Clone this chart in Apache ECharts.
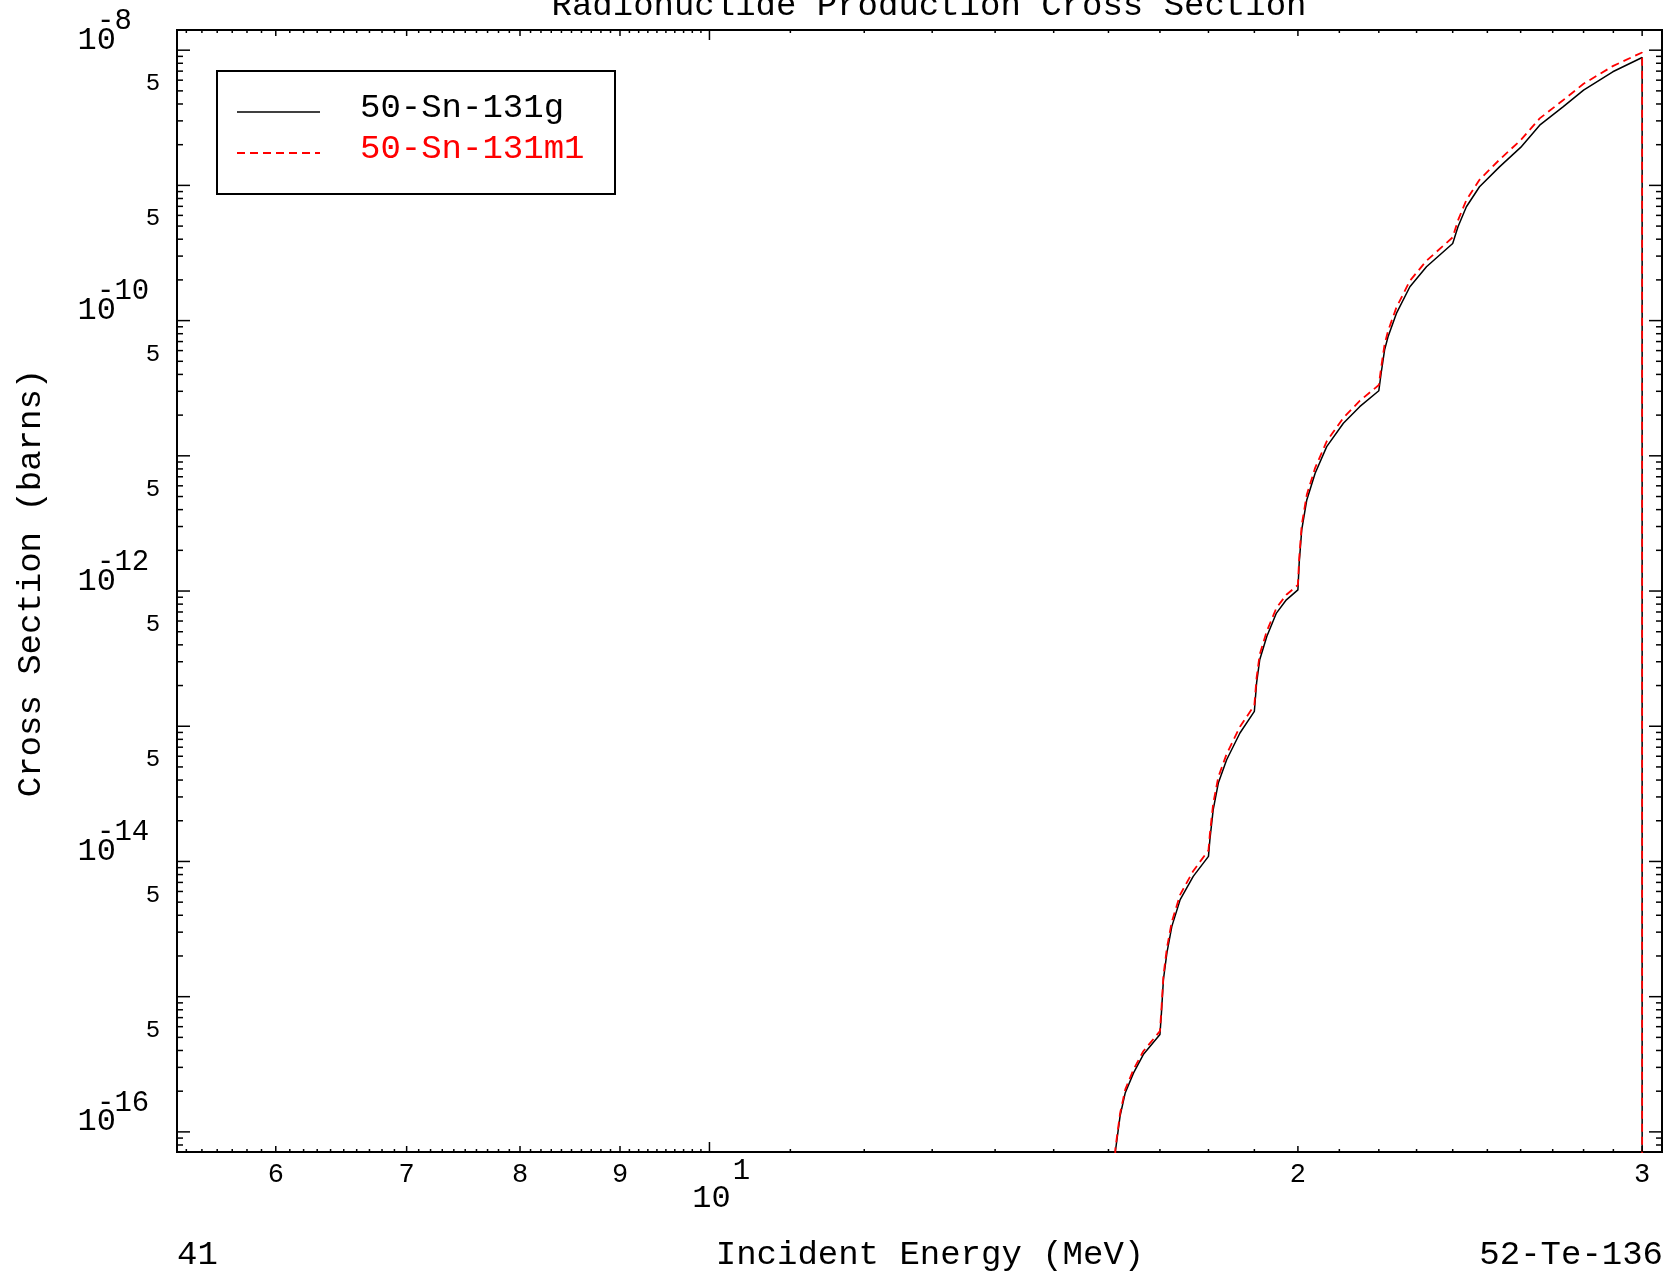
<!DOCTYPE html>
<html><head><meta charset="utf-8">
<script src="https://cdn.jsdelivr.net/npm/echarts@6/dist/echarts.min.js"></script>
<style>html,body{margin:0;padding:0;background:#fff}#chart{width:1667px;height:1277px}</style>
</head><body><div id="chart"></div>
<script>
// ---- data ----
const energyG = [16.1, 16.13, 16.22, 16.32, 16.48, 16.67, 17.0, 17.03, 17.07, 17.14, 17.24, 17.41, 17.68, 18.0, 18.03, 18.1, 18.21, 18.39, 18.68, 19.0, 19.05, 19.12, 19.28, 19.5, 19.73, 20.0, 20.03, 20.09, 20.21, 20.41, 20.69, 21.1, 21.51, 22.0, 22.06, 22.15, 22.24, 22.46, 22.82, 23.27, 24.0, 24.15, 24.39, 24.77, 25.36, 26.0, 26.59, 27.33, 28.0, 28.98, 30.0, 30.0];
const xsG = [1e-18, 7.13e-17, 1.31e-16, 1.95e-16, 2.73e-16, 3.73e-16, 5.25e-16, 7.59e-16, 1.34e-15, 2.11e-15, 3.31e-15, 5.22e-15, 7.76e-15, 1.09e-14, 1.45e-14, 2.41e-14, 3.80e-14, 5.65e-14, 8.91e-14, 1.29e-13, 2.09e-13, 3.10e-13, 4.61e-13, 6.87e-13, 8.61e-13, 1.02e-12, 1.61e-12, 2.83e-12, 4.72e-12, 7.43e-12, 1.17e-11, 1.74e-11, 2.31e-11, 3.03e-11, 4.08e-11, 6.07e-11, 7.60e-11, 1.13e-10, 1.78e-10, 2.50e-10, 3.72e-10, 4.94e-10, 6.95e-10, 9.77e-10, 1.37e-9, 1.91e-9, 2.79e-9, 3.81e-9, 5.06e-9, 6.92e-9, 8.83e-9, 1e-20];
const energyM1 = [16.09, 16.13, 16.22, 16.32, 16.48, 16.67, 17.0, 17.03, 17.07, 17.14, 17.24, 17.41, 17.68, 18.0, 18.03, 18.1, 18.21, 18.39, 18.68, 19.0, 19.05, 19.12, 19.28, 19.5, 19.73, 20.0, 20.03, 20.09, 20.21, 20.41, 20.69, 21.1, 21.51, 22.0, 22.06, 22.15, 22.24, 22.46, 22.82, 23.27, 24.0, 24.15, 24.39, 24.77, 25.36, 26.0, 26.59, 27.33, 28.0, 28.98, 30.0, 30.0];
const xsM1 = [1e-18, 7.50e-17, 1.37e-16, 2.06e-16, 2.90e-16, 3.95e-16, 5.56e-16, 8.13e-16, 1.43e-15, 2.29e-15, 3.59e-15, 5.69e-15, 8.51e-15, 1.21e-14, 1.60e-14, 2.67e-14, 4.21e-14, 6.25e-14, 9.91e-14, 1.43e-13, 2.29e-13, 3.40e-13, 5.04e-13, 7.50e-13, 9.38e-13, 1.11e-12, 1.75e-12, 3.08e-12, 5.15e-12, 8.15e-12, 1.28e-11, 1.91e-11, 2.55e-11, 3.34e-11, 4.49e-11, 6.68e-11, 8.39e-11, 1.25e-10, 1.97e-10, 2.77e-10, 4.13e-10, 5.52e-10, 7.80e-10, 1.10e-9, 1.55e-9, 2.16e-9, 3.13e-9, 4.26e-9, 5.64e-9, 7.62e-9, 9.62e-9, 1e-20];

// ---- axes ----
const xRange = [5.341, 30.71];
const yRange = [7.1e-17, 1.41e-8];
const xDecadeTicks = [10];
const xDecadeBase = ['10'];
const xDecadeExp = ['1'];
const xLabeledTicks = [6, 7, 8, 9, 20, 30];
const xTickLabels = ['6', '7', '8', '9', '2', '3'];
const xMinorTicks = [];
for (let i = 54; i < 100; i++) { if (i % 10 !== 0) xMinorTicks.push(i / 10); }
[11,12,13,14,15,16,17,18,19,21,22,23,24,25,26,27,28,29].forEach(v => xMinorTicks.push(v));
const yDecadeExps = [-8, -9, -10, -11, -12, -13, -14, -15, -16];
const yLabelDecades = [1e-8, 1e-10, 1e-12, 1e-14, 1e-16];
const yLabelExponents = ['-8', '-10', '-12', '-14', '-16'];
const yFiveTicks = [5e-9, 5e-10, 5e-11, 5e-12, 5e-13, 5e-14, 5e-15, 5e-16];
const yFiveLabel = '5';
const yMinorMantissas = [2, 3, 4, 5, 6, 7, 8, 9];

const FONT = '"Liberation Mono", "DejaVu Sans Mono", monospace';

// tick data: [x, y, kind]
const xTickData = [];
xDecadeTicks.forEach(v => xTickData.push([v, yRange[0], 0]));
xLabeledTicks.forEach(v => xTickData.push([v, yRange[0], 1]));
xMinorTicks.forEach(v => xTickData.push([v, yRange[0], 2]));
const yTickData = [];
yDecadeExps.forEach(e => {
  const d = Math.pow(10, e);
  yTickData.push([xRange[0], d, 0]);
  yMinorMantissas.forEach(m => {
    const v = m * d;
    if (v > yRange[0] && v < yRange[1]) yTickData.push([xRange[0], v, 1]);
  });
});
[2,3,4,5,6,7,8,9].forEach(m => { const v = m * 1e-17; if (v > yRange[0]) yTickData.push([xRange[0], v, 1]); });

function renderXTick(params, api) {
  const cs = params.coordSys;
  const x = api.coord([api.value(0), yRange[0]])[0];
  const len = [10, 6, 3][api.value(2)];
  const yb = cs.y + cs.height, yt = cs.y;
  const st = { stroke: '#000', lineWidth: 1.5 };
  return { type: 'group', children: [
    { type: 'line', shape: { x1: x, y1: yb, x2: x, y2: yb - len }, style: st },
    { type: 'line', shape: { x1: x, y1: yt, x2: x, y2: yt + len }, style: st }
  ]};
}
function renderYTick(params, api) {
  const cs = params.coordSys;
  const y = api.coord([xRange[0], api.value(1)])[1];
  const len = [13, 6][api.value(2)];
  const xl = cs.x, xr = cs.x + cs.width;
  const st = { stroke: '#000', lineWidth: 1.5 };
  return { type: 'group', children: [
    { type: 'line', shape: { x1: xl, y1: y, x2: xl + len, y2: y }, style: st },
    { type: 'line', shape: { x1: xr, y1: y, x2: xr - len, y2: y }, style: st }
  ]};
}
function renderXLabel(params, api) {
  const cs = params.coordSys;
  const x = api.coord([api.value(0), yRange[0]])[0];
  const idx = api.value(2);
  return { type: 'text', x: x, y: cs.y + cs.height + 23,
    style: { text: xTickLabels[idx], font: '27px ' + FONT, fill: '#000', textAlign: 'center', textVerticalAlign: 'middle' } };
}
function renderXDecadeLabel(params, api) {
  const cs = params.coordSys;
  const x = api.coord([api.value(0), yRange[0]])[0];
  const idx = api.value(2);
  const yb = cs.y + cs.height;
  return { type: 'group', children: [
    { type: 'text', x: x + 2, y: yb + 47, style: { text: xDecadeBase[idx], font: '32px ' + FONT, fill: '#000', textAlign: 'center', textVerticalAlign: 'middle' } },
    { type: 'text', x: x + 32, y: yb + 19, style: { text: xDecadeExp[idx], font: '29px ' + FONT, fill: '#000', textAlign: 'center', textVerticalAlign: 'middle' } }
  ]};
}
function renderYDecadeLabel(params, api) {
  const cs = params.coordSys;
  const y = api.coord([xRange[0], api.value(1)])[1];
  const idx = api.value(2);
  const ax = cs.x;
  return { type: 'group', children: [
    { type: 'text', x: ax - 61, y: y - 10, style: { text: '10', font: '32px ' + FONT, fill: '#000', textAlign: 'right', textVerticalAlign: 'middle' } },
    { type: 'text', x: ax - 80, y: y - 29, style: { text: yLabelExponents[idx], font: '29px ' + FONT, fill: '#000', textAlign: 'left', textVerticalAlign: 'middle' } }
  ]};
}
function renderYFiveLabel(params, api) {
  const cs = params.coordSys;
  const y = api.coord([xRange[0], api.value(1)])[1];
  return { type: 'text', x: cs.x - 24, y: y - 7,
    style: { text: yFiveLabel, font: '24px ' + FONT, fill: '#000', textAlign: 'center', textVerticalAlign: 'middle' } };
}

const chart = echarts.init(document.getElementById('chart'), null, { renderer: 'canvas' });
const customBase = { type: 'custom', coordinateSystem: 'cartesian2d', clip: false, silent: true, encode: { x: 0, y: 1 }, z: 5 };

chart.setOption({
  animation: false,
  backgroundColor: '#fff',
  grid: { left: 177, right: 5, top: 30, bottom: 125, show: true, borderColor: '#000', borderWidth: 2, backgroundColor: 'transparent', containLabel: false, outerBoundsMode: 'none' },
  xAxis: { type: 'log', logBase: 10, min: xRange[0], max: xRange[1],
    axisLine: { show: false }, axisTick: { show: false }, axisLabel: { show: false }, splitLine: { show: false }, minorTick: { show: false } },
  yAxis: { type: 'log', logBase: 10, min: yRange[0], max: yRange[1],
    axisLine: { show: false }, axisTick: { show: false }, axisLabel: { show: false }, splitLine: { show: false }, minorTick: { show: false } },
  series: [
    Object.assign({}, customBase, { name: 'xticks', data: xTickData, renderItem: renderXTick }),
    Object.assign({}, customBase, { name: 'yticks', data: yTickData, renderItem: renderYTick }),
    Object.assign({}, customBase, { name: 'xlabels', data: xLabeledTicks.map((v, i) => [v, yRange[0], i]), renderItem: renderXLabel }),
    Object.assign({}, customBase, { name: 'xdecade', data: xDecadeTicks.map((v, i) => [v, yRange[0], i]), renderItem: renderXDecadeLabel }),
    Object.assign({}, customBase, { name: 'ydecade', data: yLabelDecades.map((v, i) => [xRange[0], v, i]), renderItem: renderYDecadeLabel }),
    Object.assign({}, customBase, { name: 'yfive', data: yFiveTicks.map((v, i) => [xRange[0], v, i]), renderItem: renderYFiveLabel }),
    { name: '50-Sn-131g', type: 'line', showSymbol: false, symbol: 'none', z: 3,
      data: energyG.map((e, i) => [e, xsG[i]]),
      lineStyle: { color: '#000', width: 1.5 } },
    { name: '50-Sn-131m1', type: 'line', showSymbol: false, symbol: 'none', z: 4,
      data: energyM1.map((e, i) => [e, xsM1[i]]),
      lineStyle: { color: '#ff0000', width: 1.8, type: [8, 5] } }
  ],
  graphic: [
    { type: 'text', x: 929, y: 6, style: { text: 'Radionuclide Production Cross Section', font: '34px ' + FONT, fill: '#000', textAlign: 'center', textVerticalAlign: 'middle' } },
    { type: 'text', x: 31, y: 583, rotation: Math.PI / 2, style: { text: 'Cross Section (barns)', font: '34px ' + FONT, fill: '#000', textAlign: 'center', textVerticalAlign: 'middle' } },
    { type: 'text', x: 177, y: 1255, style: { text: '41', font: '34px ' + FONT, fill: '#000', textAlign: 'left', textVerticalAlign: 'middle' } },
    { type: 'text', x: 930, y: 1255, style: { text: 'Incident Energy (MeV)', font: '34px ' + FONT, fill: '#000', textAlign: 'center', textVerticalAlign: 'middle' } },
    { type: 'text', x: 1663, y: 1255, style: { text: '52-Te-136', font: '34px ' + FONT, fill: '#000', textAlign: 'right', textVerticalAlign: 'middle' } },
    { type: 'rect', shape: { x: 217, y: 71, width: 398, height: 123 }, style: { fill: '#fff', stroke: '#000', lineWidth: 2 }, z: 10 },
    { type: 'line', shape: { x1: 237, y1: 112, x2: 320, y2: 112 }, style: { stroke: '#000', lineWidth: 1.5 }, z: 11 },
    { type: 'line', shape: { x1: 237, y1: 153, x2: 320, y2: 153 }, style: { stroke: '#ff0000', lineWidth: 1.8, lineDash: [8, 5] }, z: 11 },
    { type: 'text', x: 360, y: 108, style: { text: '50-Sn-131g', font: '34px ' + FONT, fill: '#000', textAlign: 'left', textVerticalAlign: 'middle' }, z: 11 },
    { type: 'text', x: 360, y: 149, style: { text: '50-Sn-131m1', font: '34px ' + FONT, fill: '#ff0000', textAlign: 'left', textVerticalAlign: 'middle' }, z: 11 }
  ]
});
</script></body></html>
